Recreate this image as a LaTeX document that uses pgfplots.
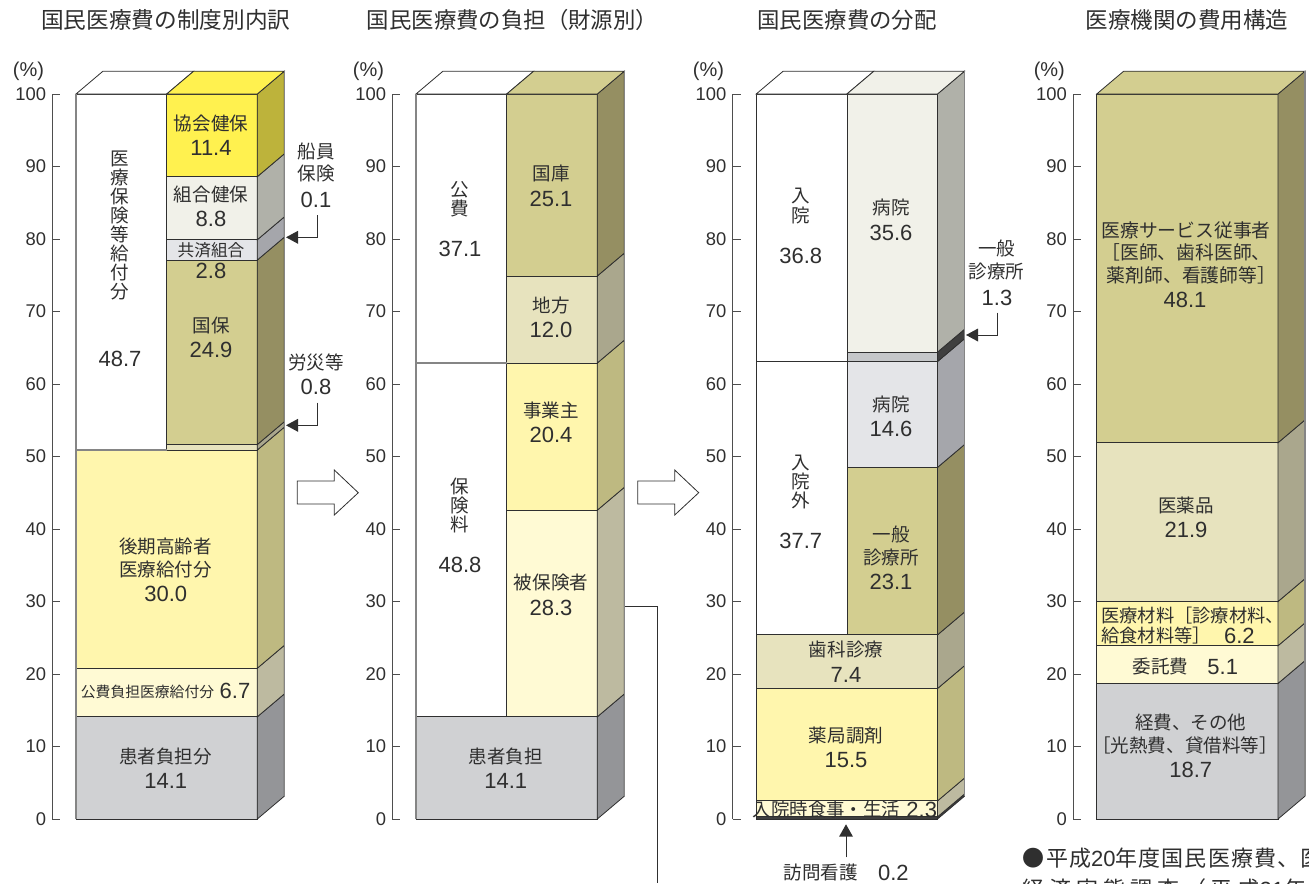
\documentclass[border=0pt]{standalone}
\usepackage{fontspec}
\usepackage{pgfplots}
\pgfplotsset{compat=1.18}
\setmainfont{Liberation Sans}
\newfontfamily\jp{Noto Sans CJK JP}

\definecolor{edge}{HTML}{2F2F2F}
\definecolor{soft}{HTML}{858585}
\definecolor{yel}{HTML}{FFF14F}   \definecolor{yelS}{HTML}{BDB33B}
\definecolor{ivo}{HTML}{F1F1E9}   \definecolor{ivoS}{HTML}{B0B1A9}
\definecolor{sil}{HTML}{E4E5E8}   \definecolor{silS}{HTML}{A5A6AB}
\definecolor{kha}{HTML}{D3CE90}   \definecolor{khaS}{HTML}{958F62}
\definecolor{bei}{HTML}{E7E3BE}   \definecolor{beiS}{HTML}{AAA78D}
\definecolor{pal}{HTML}{FFF6AD}   \definecolor{palS}{HTML}{BEB981}
\definecolor{cre}{HTML}{FFFAD4}   \definecolor{creS}{HTML}{BDBAA0}
\definecolor{gra}{HTML}{D0D1D3}   \definecolor{graS}{HTML}{949598}
\definecolor{drk}{HTML}{C5C7C9}   \definecolor{drkS}{HTML}{3F3F3F}

\pgfplotsset{
  barax/.style={
    scale only axis, width=174pt, height=543.75pt, clip=false,
    xmin=0, xmax=232, ymin=0, ymax=100,
    axis x line=none, axis y line=left,
    axis line style={-, draw=edge!85, line width=.75pt},
    ytick={0,10,...,100}, tick align=inside, major tick length=6pt,
    tick style={draw=edge!85, line width=.65pt},
    ytick pos=left,
    /pgf/number format/assume math mode=true,
    yticklabel style={font=\fontsize{13.8}{14}\selectfont, inner sep=0pt, text=edge, xshift=-4.5pt},
    every axis plot/.append style={draw=edge, line width=.6pt, mark=none},
    anchor=south west,
  },
}

% one box of a bar: x0 x1 y0 y1 colour
\newcommand{\front}[5]{\addplot[fill=#5] coordinates {(#1,#3)(#2,#3)(#2,#4)(#1,#4)} -- cycle;}
% receding side of a box: x y0 y1 colour
\newcommand{\side}[4]{%
  \pgfmathsetmacro\xb{#1+27}\pgfmathsetmacro\ya{#2+3.15}\pgfmathsetmacro\yb{#3+3.15}%
  \edef\tmp{\noexpand\addplot[fill=#4] coordinates {(#1,#2)(\xb,\ya)(\xb,\yb)(#1,#3)} -- cycle;}\tmp}
% top of a column: x0 x1 colour
\newcommand{\topf}[3]{%
  \pgfmathsetmacro\xa{#1+27}\pgfmathsetmacro\xb{#2+27}%
  \edef\tmp{\noexpand\addplot[fill=#3] coordinates {(#1,100)(#2,100)(\xb,103.15)(\xa,103.15)} -- cycle;}\tmp}
% box in the right column or across the whole bar
\newcommand{\rseg}[4]{\front{114.4}{205}{#1}{#2}{#3}\side{205}{#1}{#2}{#4}}
\newcommand{\wseg}[4]{\front{23.7}{205}{#1}{#2}{#3}\side{205}{#1}{#2}{#4}}
\newcommand{\lseg}[2]{\front{23.7}{114.4}{#1}{#2}{white}}
% the paler rules at the outer edges
\newcommand{\soft}[4]{\addplot[draw=soft,line width=.9pt] coordinates {(#1,#2)(#3,#4)};}

% texts, in pixels of the picture
\newcommand{\tj}[4]{\node[inner sep=0pt,text=edge,font=\jp\fontsize{#3}{#3}\selectfont] at (#1,#2) {#4};}
\newcommand{\tjl}[4]{\node[inner sep=0pt,anchor=west,text=edge,font=\jp\fontsize{#3}{#3}\selectfont] at (#1,#2) {#4};}
\newcommand{\tn}[3]{\node[inner sep=0pt,text=edge,font=\fontsize{16.5}{16.5}\selectfont] at (#1,#2) {#3};}
\newcommand{\tv}[5]{\node[inner sep=0pt,text=edge,align=center,font=\jp\fontsize{#3}{#4}\selectfont] at (#1,#2) {#5};}
\newcommand{\pc}[1]{\node[inner sep=0pt,text=edge,font=\fontsize{15}{15}\selectfont] at (#1,71.7) {(\%)};}
\newcommand{\leader}[2]{% x tip, y
  \fill[edge] (#1,#2) -- ++(12,-6.5) -- ++(0,13) -- cycle;}
\newcommand{\bigarrow}[1]{\draw[edge,line width=.6pt,fill=white,shift={(#1,0)}]
  (297.3,481) -- (334.3,481) -- (334.3,470) -- (358.3,492.7) -- (334.3,515) -- (334.3,504) -- (297.3,504) -- cycle;}

\begin{document}
\begin{tikzpicture}[x=0.75pt,y=-0.75pt]
\useasboundingbox (0,0) rectangle (1309,883);
\clip (0,0) rectangle (1309,883);
\coordinate (a) at (52.3,819);
\coordinate (b) at (392.3,819);
\coordinate (c) at (732.5,819);
\coordinate (d) at (1073,819);

% 制度別内訳
\begin{axis}[barax, at={(a)}]
\wseg{0}{14.1}{gra}{graS}
\wseg{14.1}{20.8}{cre}{creS}
\wseg{20.8}{50.9}{pal}{palS}
\lseg{50.9}{100}
\rseg{50.9}{51.65}{bei}{beiS}
\rseg{51.65}{77.1}{kha}{khaS}
\rseg{77.1}{79.9}{sil}{silS}
\rseg{79.9}{88.6}{ivo}{ivoS}
\rseg{88.6}{100}{yel}{yelS}
\topf{23.7}{114.4}{white}
\topf{114.4}{205}{yel}
\soft{23.7}{50.9}{114.4}{50.9}
\soft{23.7}{0}{23.7}{100}
\soft{232}{3.15}{232}{103.15}
\end{axis}

% 財源別
\begin{axis}[barax, at={(b)}]
\wseg{0}{14.1}{gra}{graS}
\lseg{14.1}{62.9}
\lseg{62.9}{100}
\rseg{14.1}{42.6}{cre}{creS}
\rseg{42.6}{62.9}{pal}{palS}
\rseg{62.9}{74.9}{bei}{beiS}
\rseg{74.9}{100}{kha}{khaS}
\topf{23.7}{114.4}{white}
\topf{114.4}{205}{kha}
\soft{23.7}{62.9}{114.4}{62.9}
\soft{23.7}{0}{23.7}{100}
\soft{232}{3.15}{232}{103.15}
\end{axis}

% 分配
\begin{axis}[barax, at={(c)}]
\wseg{0}{0.3}{drkS}{drkS}
\wseg{0.3}{2.5}{cre}{creS}
\wseg{2.5}{18.0}{pal}{palS}
\wseg{18.0}{25.4}{bei}{beiS}
\lseg{25.4}{63.1}
\lseg{63.1}{100}
\rseg{25.4}{48.5}{kha}{khaS}
\rseg{48.5}{63.1}{sil}{silS}
\rseg{63.1}{64.4}{drk}{drkS}
\rseg{64.4}{100}{ivo}{ivoS}
\topf{23.7}{114.4}{white}
\topf{114.4}{205}{ivo}
\soft{232}{3.15}{232}{103.15}
\end{axis}

% 費用構造
\begin{axis}[barax, at={(d)}]
\wseg{0}{18.7}{gra}{graS}
\wseg{18.7}{23.9}{cre}{creS}
\wseg{23.9}{30.0}{pal}{palS}
\wseg{30.0}{51.9}{bei}{beiS}
\wseg{51.9}{100}{kha}{khaS}
\topf{23.7}{205}{kha}
\soft{232}{3.15}{232}{103.15}
\end{axis}

% titles
\tj{165.7}{20}{17}{国民医療費の制度別内訳}
\tj{512.5}{20}{16.8}{国民医療費の負担（財源別）}
\tj{847}{20}{16.8}{国民医療費の分配}
\tj{1187}{20}{16.9}{医療機関の費用構造}
\pc{28.5}\pc{368.5}\pc{708.5}\pc{1049.3}

% bar 1
\tv{120}{225.7}{13.9}{14.3}{医\\療\\保\\険\\等\\給\\付\\分}
\tn{120}{359.3}{48.7}
\tj{211}{123.3}{13.9}{協会健保}\tn{211}{148.3}{11.4}
\tj{211}{194.3}{13.9}{組合健保}\tn{211}{219.3}{8.8}
\tj{211}{250}{12.5}{共済組合}\tn{211}{270.7}{2.8}
\tj{211}{325.3}{13.9}{国保}\tn{211}{350}{24.9}
\tj{165.7}{546.3}{13.9}{後期高齢者}
\tj{165.7}{569}{13.9}{医療給付分}\tn{165.7}{594.3}{30.0}
\tj{147.5}{691.7}{11.1}{公費負担医療給付分}\tn{235}{691.3}{6.7}
\tj{165.7}{756}{13.9}{患者負担分}\tn{165.7}{781}{14.1}
\tj{316}{151}{13.9}{船員}\tj{316}{173.7}{13.9}{保険}\tn{316}{199.5}{0.1}
\tj{316}{362}{13.9}{労災等}\tn{316}{387}{0.8}

% bar 2
\tv{460}{199.5}{13.9}{14.3}{公\\費}\tn{460}{249}{37.1}
\tj{551}{173.3}{13.9}{国庫}\tn{551}{199}{25.1}
\tj{551}{305}{13.9}{地方}\tn{551}{330}{12.0}
\tj{551}{410}{13.9}{事業主}\tn{551}{435.3}{20.4}
\tv{460}{505.7}{13.9}{14.3}{保\\険\\料}\tn{460}{565}{48.8}
\tj{551}{582.7}{13.9}{被保険者}\tn{551}{608.3}{28.3}
\tj{505.7}{756}{13.9}{患者負担}\tn{505.7}{781}{14.1}

% bar 3
\tv{800.7}{206}{13.9}{14.3}{入\\院}\tn{800.7}{256}{36.8}
\tj{891}{207.7}{13.9}{病院}\tn{891}{232.7}{35.6}
\tj{891}{404}{13.9}{病院}\tn{891}{429}{14.6}
\tv{800.7}{482.3}{13.9}{14.3}{入\\院\\外}\tn{800.7}{541}{37.7}
\tj{891}{534}{13.9}{一般}\tj{891}{557.3}{13.9}{診療所}\tn{891}{582.3}{23.1}
\tj{846}{649.3}{13.9}{歯科診療}\tn{846}{675}{7.4}
\tj{846}{735}{13.9}{薬局調剤}\tn{846}{760}{15.5}
\tjl{752.7}{810}{13.8}{入院時食事・生活}\tn{921.7}{810}{2.3}
\tj{996.7}{248}{13.9}{一般}\tj{996.7}{271}{13.9}{診療所}\tn{997}{297.7}{1.3}
\tj{820.7}{872.7}{13.9}{訪問看護}\tn{893.3}{872.7}{0.2}

% bar 4
\tj{1186}{230}{14.1}{医療サービス従事者}
\tj{1186}{252.3}{14.1}{［医師、歯科医師、}
\tj{1191.5}{275}{14.1}{薬剤師、看護師等］}
\tn{1185}{300.3}{48.1}
\tj{1186}{505}{13.9}{医薬品}\tn{1186}{530.3}{21.9}
\tjl{1101}{615.7}{13.7}{医療材料［診療材料、}
\tjl{1101}{635.7}{13.7}{給食材料等］}\tn{1239.3}{635.7}{6.2}
\tj{1160.7}{666.7}{13.9}{委託費}\tn{1222.7}{666.7}{5.1}
\tj{1190.7}{722.3}{13.9}{経費、その他}
\tj{1185}{745.7}{13.9}{［光熱費、貸借料等］}
\tn{1190.7}{770}{18.7}

% note under the last bar, cut by the edge of the page
\tjl{1022.7}{858.5}{16.5}{\addfontfeature{LetterSpace=5}●平成{\normalfont 20}年度国民医療費、医}
\tjl{1022.7}{889}{16.5}{\addfontfeature{LetterSpace=22}経済実態調査（平成{\normalfont 21}年3}

% arrows and leader lines
\bigarrow{0}\bigarrow{340.4}
\draw[edge,line width=.7pt] (317,215) -- (317,237.3) -- (297,237.3);
\leader{286}{237.3}
\draw[edge,line width=.7pt] (317,402.7) -- (317,425.3) -- (297,425.3);
\leader{286}{425.3}
\draw[edge,line width=.7pt] (997.7,312.7) -- (997.7,335) -- (977,335);
\leader{966}{335}
\draw[edge,line width=.7pt] (625,606.7) -- (657,606.7) -- (657,883);
\draw[edge,line width=.7pt] (846,857.3) -- (846,836);
\fill[edge] (846,824.3) -- (853,836.7) -- (839,836.7) -- cycle;
\end{tikzpicture}
\end{document}
